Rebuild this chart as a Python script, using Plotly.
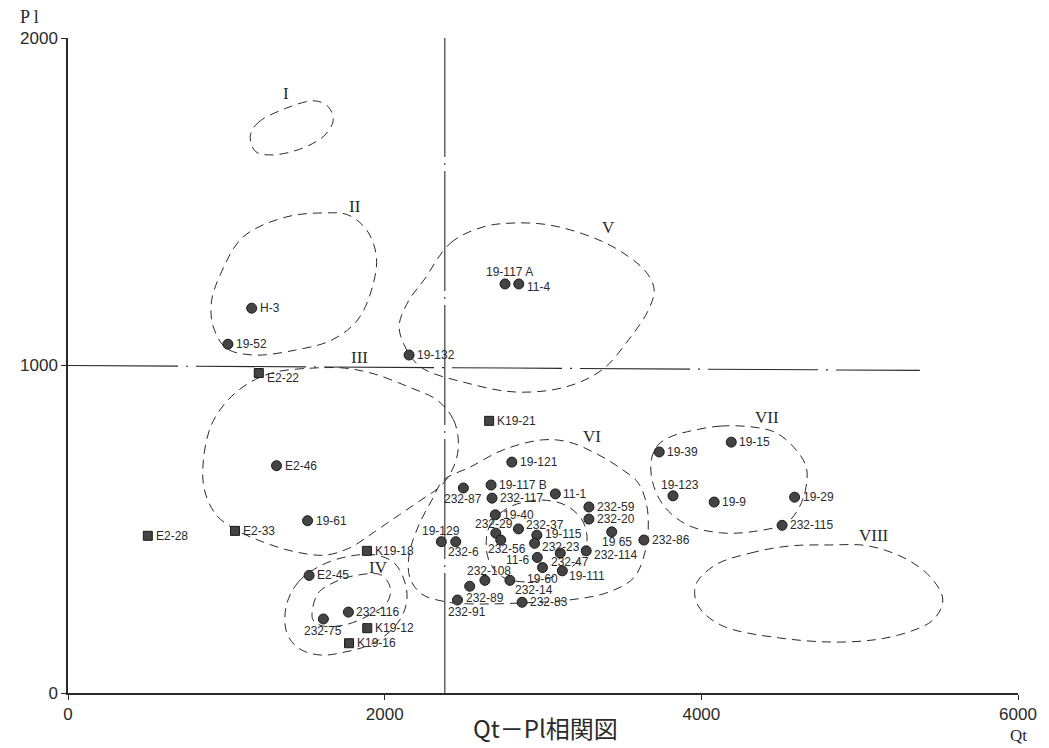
import plotly.graph_objects as go

# ---------------- data ----------------
circle_names = ["H-3", "19-52", "19-132", "19-117 A", "11-4", "E2-46", "19-61", "E2-45",
                "232-116", "232-75", "19-121", "19-117 B", "232-87", "232-117", "11-1",
                "232-59", "232-20", "19-40", "232-37", "232-29", "232-56", "19-115",
                "232-23", "19-129", "232-6", "11-6", "232-47", "19 65", "232-114",
                "232-86", "19-60", "19-111", "232-108", "232-89", "232-14", "232-91",
                "232-83", "19-39", "19-15", "19-123", "19-9", "19-29", "232-115"]
circle_x = [1160, 1010, 2154, 2760, 2847, 1317, 1513, 1523,
            1771, 1613, 2803, 2672, 2497, 2678, 3078,
            3290, 3290, 2699, 2845, 2702, 2733, 2961,
            2947, 2358, 2449, 2964, 3109, 3434, 3273,
            3637, 2997, 3122, 2633, 2537, 2791, 2460,
            2868, 3734, 4189, 3821, 4081, 4589, 4510]
circle_y = [1175, 1065, 1032, 1249, 1249, 694, 526, 359,
            247, 226, 705, 635, 626, 595, 608,
            568, 531, 544, 501, 488, 467, 482,
            457, 462, 462, 414, 427, 492, 434,
            467, 383, 373, 344, 326, 344, 284,
            277, 736, 766, 602, 583, 598, 512]

square_names = ["E2-22", "K19-21", "E2-33", "E2-28", "K19-18", "K19-12", "K19-16"]
square_x = [1205, 2660, 1055, 504, 1888, 1890, 1775]
square_y = [977, 831, 495, 480, 434, 198, 152]

# group outlines (Qt, Pl)
groups = {
    "I": ([1151, 1197, 1374, 1561, 1644, 1675, 1623, 1478, 1290, 1186],
          [1699, 1740, 1785, 1808, 1790, 1750, 1704, 1663, 1643, 1653]),
    "II": ([955, 1105, 1374, 1623, 1767, 1886, 1948, 1917, 1829, 1667, 1436, 1168, 999, 918, 905],
           [1270, 1392, 1453, 1466, 1460, 1414, 1331, 1231, 1139, 1078, 1047, 1032, 1053, 1118, 1191]),
    "III": ([2329, 2435, 2466, 2435, 2360, 2229, 2092, 1935, 1779, 1623, 1436, 1249, 1061, 936,
             862, 855, 905, 1011, 1155, 1311, 1542, 1748, 1935, 2154],
            [895, 834, 757, 690, 635, 589, 544, 492, 443, 421, 431, 458, 498, 544,
             620, 711, 818, 895, 950, 980, 992, 992, 974, 934]),
    "IV_out": ([1380, 1455, 1592, 1779, 1948, 2060, 2123, 2141, 2110, 2029, 1904, 1748, 1592, 1455, 1380],
               [269, 339, 388, 418, 421, 397, 345, 290, 235, 186, 147, 125, 116, 137, 186]),
    "IV_in": ([1542, 1580, 1686, 1829, 1979, 2035, 2017, 1904, 1748, 1605, 1548],
              [247, 305, 339, 360, 360, 321, 278, 238, 208, 205, 223]),
    "V": ([2248, 2416, 2622, 2810, 3041, 3309, 3496, 3652, 3702, 3665, 3540, 3371, 3140,
           2828, 2516, 2229, 2123, 2092, 2154],
          [1261, 1374, 1423, 1435, 1429, 1392, 1347, 1285, 1231, 1169, 1078, 986, 934,
           919, 947, 995, 1063, 1124, 1200]),
    "VI": ([2372, 2541, 2747, 2997, 3165, 3328, 3478, 3602, 3652, 3665, 3652, 3577, 3415,
            3165, 2872, 2560, 2391, 2235, 2160, 2154, 2216, 2298],
           [650, 690, 742, 773, 766, 733, 690, 641, 580, 519, 446, 354, 308,
            284, 275, 272, 278, 302, 351, 421, 513, 589]),
    "VI_in": ([2641, 2666, 2778, 2966, 3140, 3247, 3278, 3228, 3090, 2903, 2747, 2666],
              [452, 513, 565, 589, 574, 528, 467, 406, 360, 339, 354, 397]),
    "VII": ([3913, 4121, 4327, 4475, 4599, 4662, 4662, 4620, 4537, 4327, 4121, 3913, 3767,
             3694, 3684, 3725, 3809],
            [798, 815, 812, 794, 742, 691, 630, 569, 519, 493, 489, 513, 569,
             641, 711, 757, 783]),
    "VIII": ([4089, 4308, 4558, 4808, 5057, 5307, 5463, 5525, 5463, 5245, 4932, 4495, 4121, 3977, 3965],
             [391, 427, 449, 452, 449, 406, 345, 284, 223, 177, 156, 168, 208, 269, 330]),
}

group_labels = ["I", "II", "III", "IV", "V", "VI", "VII", "VIII"]
group_label_x = [1374, 1811, 1842, 1960, 3415, 3309, 4414, 5088]
group_label_y = [1832, 1484, 1023, 382, 1420, 782, 840, 482]

x_ticks = [0, 2000, 4000, 6000]
y_ticks = [0, 1000, 2000]
cross_x = 2380          # vertical reference line (Qt)
cross_line_x = [0, 5380]
cross_line_y = [1000, 985]

# ---------------- label placement (pixel offsets, anchor) ----------------
label_style = {
    "E2-22": (6, -5, "left"),
    "19-117 A": (4, 12, "center"),
    "11-4": (6, -3, "left"),
    "232-75": (0, -12, "center"),
    "232-87": (0, -11, "center"),
    "232-29": (-2, 9, "center"),
    "232-56": (-15, -9, "left"),
    "232-37": (6, 4, "left"),
    "19-115": (6, 1, "left"),
    "232-23": (5, -4, "left"),
    "19-129": (0, 11, "center"),
    "232-6": (8, -10, "center"),
    "11-6": (-6, -3, "right"),
    "232-47": (-11, -9, "left"),
    "19 65": (5, -10, "center"),
    "232-114": (6, -4, "left"),
    "19-60": (0, -11, "center"),
    "19-111": (5, -5, "left"),
    "232-108": (4, 9, "center"),
    "232-89": (-6, -12, "left"),
    "232-14": (3, -10, "left"),
    "232-91": (-12, -12, "left"),
    "19-123": (7, 11, "center"),
}

INK = "#2a2a2a"
DOT = "#444444"

fig = go.Figure()

# reference lines
fig.add_trace(go.Scatter(x=[cross_x, cross_x], y=[0, 2000], mode="lines",
                         line=dict(color=INK, width=1.1, dash="120px,6px,2px,6px"),
                         hoverinfo="skip", showlegend=False))
fig.add_trace(go.Scatter(x=cross_line_x, y=cross_line_y, mode="lines",
                         line=dict(color=INK, width=1.1, dash="110px,8px,2px,8px"),
                         hoverinfo="skip", showlegend=False))

# group outlines
for key, (gx, gy) in groups.items():
    fig.add_trace(go.Scatter(x=list(gx) + [gx[0]], y=list(gy) + [gy[0]], mode="lines",
                             line=dict(color=INK, width=1, dash="9px,6px", shape="spline",
                                       smoothing=1.0),
                             hoverinfo="skip", showlegend=False))

# points
fig.add_trace(go.Scatter(x=circle_x, y=circle_y, mode="markers", text=circle_names,
                         marker=dict(symbol="circle", size=10, color=DOT,
                                     line=dict(color="#1a1a1a", width=1)),
                         showlegend=False, hoverinfo="text"))
fig.add_trace(go.Scatter(x=square_x, y=square_y, mode="markers", text=square_names,
                         marker=dict(symbol="square", size=9, color=DOT,
                                     line=dict(color="#1a1a1a", width=1)),
                         showlegend=False, hoverinfo="text"))

annotations = []
for names, xs, ys in ((circle_names, circle_x, circle_y), (square_names, square_x, square_y)):
    for n, x, y in zip(names, xs, ys):
        dx, dy, anc = label_style.get(n, (6, 0, "left"))
        annotations.append(dict(x=x, y=y, text=n, showarrow=False, xanchor=anc, yanchor="middle",
                                xshift=dx, yshift=dy,
                                font=dict(family="Liberation Sans, Arial", size=12, color=INK)))

for t, x, y in zip(group_labels, group_label_x, group_label_y):
    annotations.append(dict(x=x, y=y, text=t, showarrow=False, xanchor="center", yanchor="middle",
                            font=dict(family="Liberation Serif, Times New Roman", size=17, color=INK)))

# axis names and title
annotations.append(dict(xref="paper", yref="paper", x=0, y=1, xshift=-39, yshift=21, text="P l",
                        showarrow=False, xanchor="center", yanchor="middle",
                        font=dict(family="Liberation Serif", size=18, color=INK)))
annotations.append(dict(xref="paper", yref="paper", x=1, y=0, xshift=0, yshift=-42, text="Qt",
                        showarrow=False, xanchor="center", yanchor="middle",
                        font=dict(family="Liberation Serif", size=17, color=INK)))
annotations.append(dict(xref="paper", yref="paper", x=0.503, y=0, yshift=-34, text="Qt－Pl相関図",
                        showarrow=False, xanchor="center", yanchor="middle",
                        font=dict(family="Noto Sans CJK JP", size=24, color=INK)))

# page body has an 8px margin, so the figure is sized/offset to keep the plot in place
fig.update_layout(
    width=1041, height=740,
    margin=dict(l=53, r=27, t=30, b=55),
    paper_bgcolor="white", plot_bgcolor="white",
    annotations=annotations,
    xaxis=dict(range=[0, 6000], tickvals=x_ticks, ticktext=[str(v) for v in x_ticks],
               showgrid=False, zeroline=False, showline=True, linecolor=INK, linewidth=1.5,
               ticks="outside", ticklen=5, tickcolor=INK,
               tickfont=dict(family="Liberation Sans", size=17, color=INK)),
    yaxis=dict(range=[0, 2000], tickvals=y_ticks, ticktext=[str(v) for v in y_ticks],
               showgrid=False, zeroline=False, showline=True, linecolor=INK, linewidth=1.5,
               ticks="outside", ticklen=5, tickcolor=INK,
               tickfont=dict(family="Liberation Sans", size=17, color=INK)),
)

fig.write_html("out.html")
